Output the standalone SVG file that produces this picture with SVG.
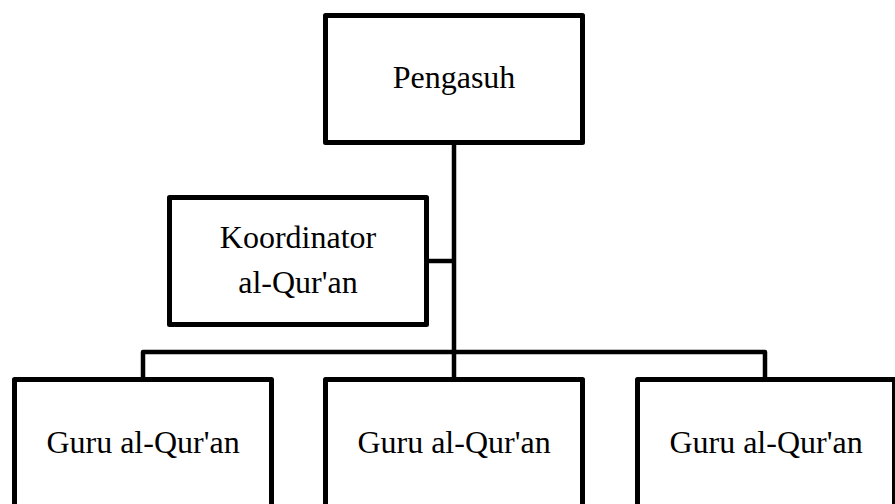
<svg xmlns="http://www.w3.org/2000/svg" width="895" height="504" viewBox="0 0 895 504">
<style>
.box{fill:#fff;stroke:#000;stroke-width:5;stroke-linejoin:round}
.ln{fill:none;stroke:#000;stroke-width:4.5}
text{font-family:"Liberation Serif","Times New Roman",serif;font-size:32px;fill:#000;text-anchor:middle}
</style>
<rect width="895" height="504" fill="#fff"/>
<g id="connectors">
<line class="ln" x1="454" y1="142" x2="454" y2="380"/>
<line class="ln" x1="426" y1="261" x2="454" y2="261"/>
<polyline class="ln" points="143,380 143,352 765,352 765,380" stroke-linejoin="round"/>
</g>
<g id="pengasuh">
<rect class="box" x="325.5" y="15.5" width="257" height="127"/>
<text x="454" y="88">Pengasuh</text>
</g>
<g id="koordinator">
<rect class="box" x="169.5" y="197.5" width="257" height="127"/>
<text x="298" y="248">Koordinator</text>
<text x="298" y="293">al-Qur'an</text>
</g>
<g id="guru1">
<rect class="box" x="14.5" y="379.5" width="257" height="140"/>
<text x="143" y="453">Guru al-Qur'an</text>
</g>
<g id="guru2">
<rect class="box" x="325.5" y="379.5" width="257" height="140"/>
<text x="454" y="453">Guru al-Qur'an</text>
</g>
<g id="guru3">
<rect class="box" x="637.5" y="379.5" width="257" height="140"/>
<text x="766" y="453">Guru al-Qur'an</text>
</g>
</svg>
